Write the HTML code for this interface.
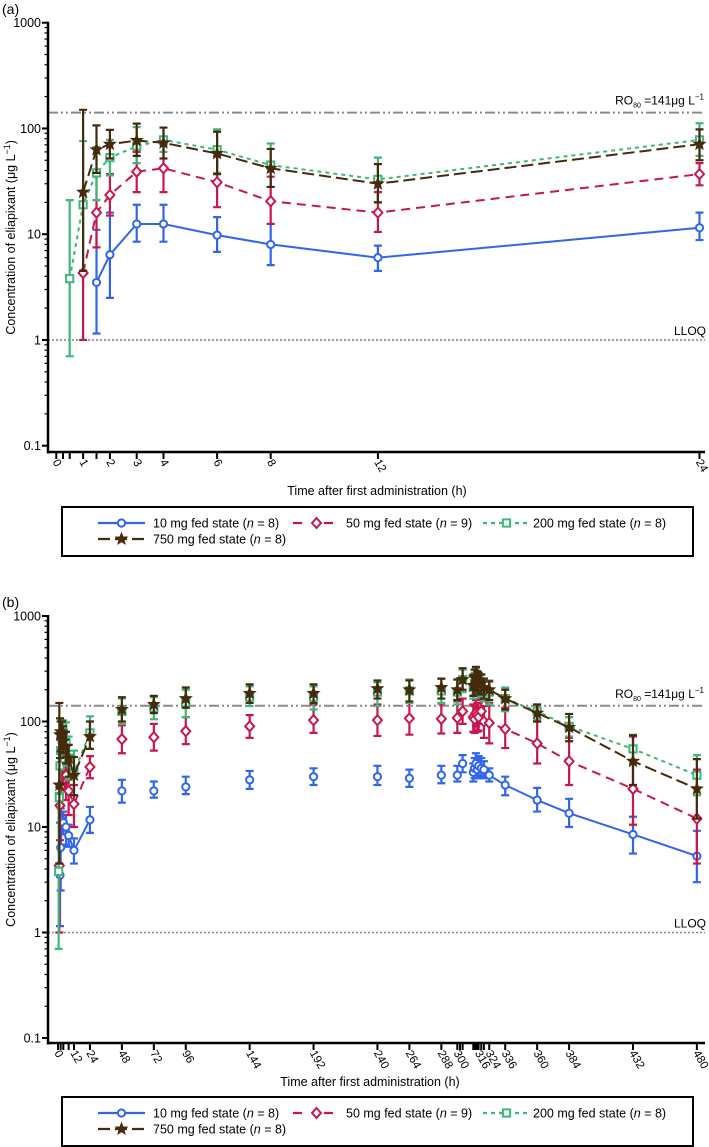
<!DOCTYPE html>
<html><head><meta charset="utf-8">
<style>
html,body{margin:0;padding:0;background:#fff;}
svg{display:block;font-family:"Liberation Sans",Arial,sans-serif;}
</style></head>
<body>
<svg id="fig" width="709" height="1147" viewBox="0 0 709 1147" xmlns="http://www.w3.org/2000/svg">
<text x="2" y="14" font-size="14">(a)</text>
<text x="2" y="607" font-size="14">(b)</text>
<g id="pa"></g>
<g id="pb"></g>
</svg>
<script>
// ---- Panel A data ----
const timesA = [0.5,1,1.5,2,3,4,6,8,12,24];
const blueA  = [null,null,3.5,6.4,12.5,12.5,9.8,8,6,11.5];
const blueALo= [null,null,1.15,2.5,8.5,8.5,6.8,5.1,4.5,8.8];
const blueAHi= [null,null,11,16,19,19,14.5,12.5,7.8,16];
const redA   = [null,4.3,16,23.5,39,42,31,20.5,16,37];
const redALo = [null,1,7.5,15,25,25,18,12.5,10.5,29];
const redAHi = [null,4.5,37,37,60,70,55,35,25,47];
const greenA = [3.8,19,38,53,68,78,63,45,33,78];
const greenALo=[0.7,4.5,21,36,47,60,38,28,20,55];
const greenAHi=[21,76,67,78,103,102,98,72,53,112];
const brownA = [null,25,63,71,77,73,58,42,30,71];
const brownALo=[null,4.5,38,52,55,52,37,28,20,50];
const brownAHi=[null,150,107,97,111,102,93,64,46,98];
const tickLabelsA = [0,1,2,3,4,6,8,12,24];
const minorTicksA = [0.25,0.5,1.5];
// ---- Panel B data ----
const timesB = [0.5,1,1.5,2,3,4,6,8,12,24,48,72,96,144,192,240,264,288,300,304,312,313,314,315,316,318,320,324,336,360,384,432,480];
const blueB  = [null,null,3.5,6.4,11.5,11,10,8.3,6,11.7,22,22,24,28,30,30,29,31,31,40,33,36,40,35,38,36,35,31,25,18,13.5,8.5,5.3];
const blueBLo= [null,null,1.15,2.5,8.5,8.5,6.8,6.5,4.5,8.8,17,19,20.5,23,25,25,24,26,27,33,27,29,33,29,31,30,29,27,20,14,10,5.6,3];
const blueBHi= [null,null,11,16,14,14,13,10.5,7.8,15.5,28,27,30,34,36,38,35,38,38,48,40,45,50,43,47,45,42,36,30,23.5,18.5,12.5,9.2];
const redB   = [null,4.3,16,24,38,42,31,22,16.5,37,68,71,81,90,103,103,107,106,108,125,110,105,120,115,110,125,100,97,85,62,42,23,12];
const redBLo = [null,1,7.5,15,25,25,18,13,10,29,50,53,61,70,78,73,75,77,78,95,80,78,90,80,82,95,70,62,56,40,25,10.5,4.5];
const redBHi = [null,4.5,37,37,60,70,55,35,25,47,92,95,110,115,145,145,150,148,155,165,145,140,160,150,150,165,140,150,135,100,70,72,35];
const greenB = [3.8,19,38,53,68,78,63,45,33,78,125,135,150,170,170,190,195,195,190,250,210,230,260,240,230,220,200,190,165,125,90,55,31];
const greenBLo=[0.7,4.5,21,36,47,60,38,28,20,55,95,105,110,140,130,140,150,150,145,190,165,180,200,185,175,170,155,145,125,105,72,40,20];
const greenBHi=[21,76,67,78,103,102,98,72,53,112,165,170,200,215,215,235,250,255,250,310,270,290,320,300,290,275,255,245,210,145,110,75,48];
const brownB = [null,25,75,80,75,65,58,45,31,72,130,145,165,185,185,205,200,210,200,250,220,260,270,250,240,230,210,200,165,120,88,42,23];
const brownBLo=[null,4.5,45,52,55,50,40,30,20,55,100,120,135,150,150,165,155,165,160,200,175,200,215,195,185,180,165,160,130,100,65,25,12];
const brownBHi=[null,150,107,100,100,90,80,60,46,100,170,175,210,225,225,245,245,255,250,320,275,310,330,300,290,280,255,240,200,145,118,74,44];
const tickLabelsB = [0,12,24,48,72,96,144,192,240,264,288,300,316,324,336,360,384,432,480];
const yTickVals = [0.1,1,10,100,1000];

const NS="http://www.w3.org/2000/svg";
const COL={blue:"#3265ee",red:"#c8174e",green:"#3fb77a",brown:"#472a0c"};
function mk(parent,tag,attrs){const e=document.createElementNS(NS,tag);for(const k in attrs)e.setAttribute(k,attrs[k]);parent.appendChild(e);return e;}

function marker(g,kind,x,y){
  let e;
  if(kind==="blue"){e=mk(g,"circle",{cx:x,cy:y,r:3.6,fill:"#fff",stroke:COL.blue,"stroke-width":2});}
  else if(kind==="red"){e=mk(g,"polygon",{points:`${x},${y-5} ${x+4.5},${y} ${x},${y+5} ${x-4.5},${y}`,fill:"#fff",stroke:COL.red,"stroke-width":2});}
  else if(kind==="green"){e=mk(g,"rect",{x:x-3.6,y:y-3.6,width:7.2,height:7.2,fill:"#fff",stroke:COL.green,"stroke-width":2});}
  else {let p=[];for(let i=0;i<10;i++){const a=-Math.PI/2+i*Math.PI/5;const r=i%2?2.6:6;p.push((x+r*Math.cos(a)).toFixed(1)+","+(y+r*Math.sin(a)).toFixed(1));}
    e=mk(g,"polygon",{points:p.join(" "),fill:COL.brown,stroke:COL.brown,"stroke-width":1});}
  
  
}
const DASH={blue:null,red:"9,6",green:"4,4",brown:"12,5"};

function panel(gid,cfg){
  const g=document.getElementById(gid);
  const X=t=>cfg.x0+t*cfg.ppx;
  const Y=v=>cfg.y1000+(3-Math.log10(v))*cfg.dec;
  const axY=cfg.axisY;
  // reference lines
  let ro=mk(g,"line",{x1:48,x2:705,y1:Y(141),y2:Y(141),stroke:"#8a8a8a","stroke-width":2,"stroke-dasharray":"10,3,2,3,2,3"});
  
  let rt=mk(g,"text",{x:704,y:Y(141)-8,"font-size":12,"text-anchor":"end"});
  rt.innerHTML='RO<tspan font-size="7" dy="3">80</tspan><tspan dy="-3"> =141μg L</tspan><tspan font-size="8" dy="-5">−1</tspan>';
  
  let ll=mk(g,"line",{x1:48,x2:705,y1:Y(1),y2:Y(1),stroke:"#8a8a8a","stroke-width":1.6,"stroke-dasharray":"2,2"});
  
  let lt=mk(g,"text",{x:706,y:Y(1)-5,"font-size":12,"text-anchor":"end"});lt.textContent="LLOQ";
  
  // axes
  let ya=mk(g,"line",{x1:48,x2:48,y1:Y(1000)-1,y2:axY+1.5,stroke:"#000","stroke-width":2.5});
  
  let xa=mk(g,"line",{x1:47,x2:705,y1:axY,y2:axY,stroke:"#000","stroke-width":2.5});
  
  for(let d=-1;d<3;d++){for(let m=2;m<10;m++){const v=m*Math.pow(10,d);mk(g,"line",{x1:44.5,x2:48,y1:Y(v),y2:Y(v),stroke:"#000","stroke-width":1.2});}}
  yTickVals.forEach(v=>{mk(g,"line",{x1:42,x2:48,y1:Y(v),y2:Y(v),stroke:"#000","stroke-width":2});
    const t=mk(g,"text",{x:41,y:Y(v)+4.5,"font-size":12.5,"text-anchor":"end"});t.textContent=String(v);
    });
  cfg.ticks.forEach(t=>mk(g,"line",{x1:X(t),x2:X(t),y1:axY,y2:axY+7,stroke:"#000","stroke-width":2}));
  cfg.labels.forEach(t=>{const x=X(t);const tx=mk(g,"text",{x:0,y:0,"font-size":11.5,transform:`translate(${x-4},${axY+10}) rotate(60)`});tx.textContent=String(t);
    });
  let yl=mk(g,"text",{x:0,y:0,"font-size":12.5,"text-anchor":"middle",transform:`translate(15,${(Y(1000)+axY)/2}) rotate(-90)`});
  yl.innerHTML='Concentration of eliapixant (μg L<tspan font-size="9" dy="-5">−1</tspan><tspan dy="5">)</tspan>';
  
  let xl=mk(g,"text",{x:cfg.titleX,y:cfg.titleY,"font-size":12.5,"text-anchor":"middle"});xl.textContent="Time after first administration (h)";
  
  // series
  cfg.series.forEach(s=>{
    const sg=mk(g,"g",{});
    
    s.segs.forEach(([a,b])=>{
      const pts=[];for(let i=0;i<cfg.times.length;i++){const t=cfg.times[i];if(t>=a&&t<=b&&s.v[i]!=null)pts.push(X(t).toFixed(1)+","+Y(s.v[i]).toFixed(1));}
      const pl=mk(sg,"polyline",{points:pts.join(" "),fill:"none",stroke:COL[s.kind],"stroke-width":2});
      if(DASH[s.kind])pl.setAttribute("stroke-dasharray",DASH[s.kind]);
      
    });
    cfg.times.forEach((t,i)=>{if(s.v[i]==null)return;const x=X(t);
      const eb=mk(sg,"path",{d:`M${x},${Y(s.lo[i])}V${Y(s.hi[i])}M${x-4},${Y(s.lo[i])}h8M${x-4},${Y(s.hi[i])}h8`,stroke:COL[s.kind],"stroke-width":2.2,fill:"none"});
      
    });
    cfg.times.forEach((t,i)=>{if(s.v[i]==null)return;marker(sg,s.kind,X(t),Y(s.v[i]));});
  });
  // legend
  const L=cfg.legY;
  const box=mk(g,"rect",{x:62,y:L,width:631,height:49,fill:"none",stroke:"#000","stroke-width":2});
  
  const items=[["blue",98,153,L+16,"10 mg fed state (","n"," = 8)"],["red",293,346,L+16,"50 mg fed state (","n"," = 9)"],["green",483,533,L+16,"200 mg fed state (","n"," = 8)"],["brown",98,153,L+32,"750 mg fed state (","n"," = 8)"]];
  items.forEach(it=>{const [k,lx,tx,y]=it;const lg=mk(g,"g",{});
    
    const ln=mk(lg,"line",{x1:lx,x2:lx+47,y1:y,y2:y,stroke:COL[k],"stroke-width":2.2});
    if(DASH[k])ln.setAttribute("stroke-dasharray",k==="red"?"9,22,0,0":DASH[k]);
    marker(lg,k,lx+23.5,y);
    const t=mk(lg,"text",{x:tx,y:y+4.5,"font-size":12.5});t.innerHTML=`${it[4]}<tspan font-style="italic">${it[5]}</tspan>${it[6]})`.replace("))",")");
  });
}
panel("pa",{x0:56.3,ppx:26.8,y1000:22.7,dec:105.75,axisY:452,times:timesA,
  ticks:[0,0.25,0.5,1,1.5,2,3,4,6,8,12,24],labels:tickLabelsA,titleX:377,titleY:495,legY:507,
  series:[{kind:"blue",v:blueA,lo:blueALo,hi:blueAHi,segs:[[0,24]]},{kind:"red",v:redA,lo:redALo,hi:redAHi,segs:[[0,24]]},
          {kind:"green",v:greenA,lo:greenALo,hi:greenAHi,segs:[[0,24]]},{kind:"brown",v:brownA,lo:brownALo,hi:brownAHi,segs:[[0,24]]}]});
panel("pb",{x0:58,ppx:1.331,y1000:616,dec:105.5,axisY:1043,times:timesB,
  ticks:[0,2,4,8,12,24,48,72,96,144,192,240,264,288,300,302,304,312,313,314,315,316,318,320,324,336,360,384,432,480],labels:tickLabelsB,titleX:370,titleY:1086,legY:1097,
  series:[{kind:"blue",v:blueB,lo:blueBLo,hi:blueBHi,segs:[[0,24],[312,480]]},{kind:"red",v:redB,lo:redBLo,hi:redBHi,segs:[[0,24],[312,480]]},
          {kind:"green",v:greenB,lo:greenBLo,hi:greenBHi,segs:[[0,24],[312,480]]},{kind:"brown",v:brownB,lo:brownBLo,hi:brownBHi,segs:[[0,24],[312,480]]}]});
</script>
</body></html>
